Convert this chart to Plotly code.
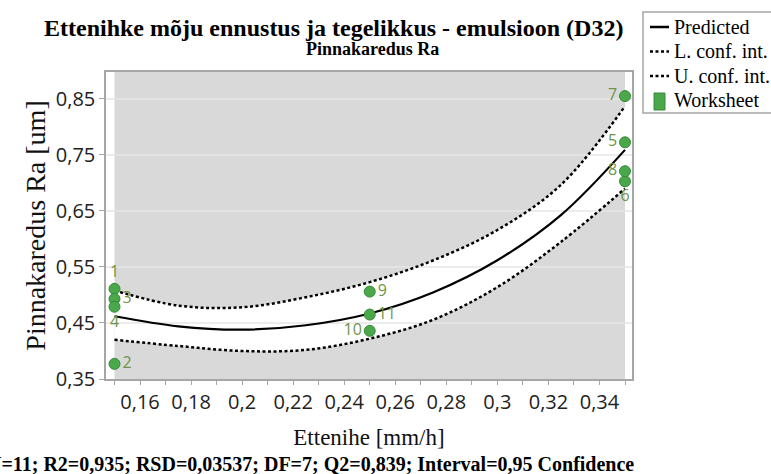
import plotly.graph_objects as go

# ---- fitted model curve (feed rate vs. surface roughness) ----
X_FIT = [0.15, 0.175, 0.2, 0.225, 0.25, 0.275, 0.3, 0.325, 0.35]
PREDICTED = [0.462, 0.444, 0.438, 0.446, 0.467, 0.505, 0.562, 0.643, 0.759]
LOWER_CONF = [0.420, 0.409, 0.400, 0.402, 0.422, 0.456, 0.514, 0.595, 0.690]
UPPER_CONF = [0.508, 0.481, 0.478, 0.496, 0.523, 0.562, 0.616, 0.697, 0.837]

# ---- worksheet observations ----
OBS_ID = ["1", "2", "3", "4", "5", "6", "7", "8", "9", "10", "11"]
OBS_X = [0.15, 0.15, 0.15, 0.15, 0.35, 0.35, 0.35, 0.35, 0.25, 0.25, 0.25]
OBS_Y = [0.511, 0.377, 0.493, 0.479, 0.7725, 0.703, 0.855, 0.721, 0.506, 0.436, 0.465]

# ---- axis ticks ----
X_TICKS = [0.15, 0.16, 0.17, 0.18, 0.19, 0.20, 0.21, 0.22, 0.23, 0.24, 0.25,
           0.26, 0.27, 0.28, 0.29, 0.30, 0.31, 0.32, 0.33, 0.34, 0.35]
X_TICK_TEXT = ["", "0,16", "", "0,18", "", "0,2", "", "0,22", "", "0,24", "",
               "0,26", "", "0,28", "", "0,3", "", "0,32", "", "0,34", ""]
Y_TICKS = [0.35, 0.45, 0.55, 0.65, 0.75, 0.85]
Y_TICK_TEXT = ["0,35", "0,45", "0,55", "0,65", "0,75", "0,85"]

X_RANGE = [0.14667, 0.35274]
Y_RANGE = [0.35, 0.898]
FACTOR_RANGE = [0.15, 0.35]

# label placement for each observation number
LABEL_POS = ["top center", "middle right", "middle right", "bottom center",
             "middle left", "bottom center", "middle left", "middle left",
             "middle right", "middle left", "middle right"]

# ---- page geometry ----
W, H = 771, 474
ML, MR, MT, MB = 106, 139, 72, 95
PW, PH = W - ML - MR, H - MT - MB


def px_x(px):
    return (px - ML) / PW


def px_y(py):
    return (H - MB - py) / PH


SERIF = "Liberation Serif"
SANS = "Open Sans"
GREEN = "#4aa84a"
GREEN_EDGE = "#378a37"
LABEL_GREEN = "#6e9447"
FRAME = "#a6a6a6"
BAND_GRAY = "#d9d9d9"
GRID = "#e6e6e6"
DOT = "3px,2.5px"

fig = go.Figure()

# white confidence band between the lower and upper limits
fig.add_trace(go.Scatter(x=X_FIT, y=LOWER_CONF, mode="lines",
                         line=dict(width=0, shape="spline"),
                         hoverinfo="skip", showlegend=False))
fig.add_trace(go.Scatter(x=X_FIT, y=UPPER_CONF, mode="lines",
                         line=dict(width=0, shape="spline"),
                         fill="tonexty", fillcolor="white",
                         hoverinfo="skip", showlegend=False))

# horizontal grid lines, drawn over the band
grid_x, grid_y = [], []
for v in Y_TICKS[1:]:
    grid_x += [X_RANGE[0], X_RANGE[1], None]
    grid_y += [v, v, None]
fig.add_trace(go.Scatter(x=grid_x, y=grid_y, mode="lines",
                         line=dict(color=GRID, width=1.5),
                         hoverinfo="skip", showlegend=False))

# confidence limits and prediction
fig.add_trace(go.Scatter(x=X_FIT, y=LOWER_CONF, mode="lines", name="L. conf. int.",
                         line=dict(color="black", width=2.5, dash=DOT, shape="spline"),
                         showlegend=False))
fig.add_trace(go.Scatter(x=X_FIT, y=UPPER_CONF, mode="lines", name="U. conf. int.",
                         line=dict(color="black", width=2.5, dash=DOT, shape="spline"),
                         showlegend=False))
fig.add_trace(go.Scatter(x=X_FIT, y=PREDICTED, mode="lines", name="Predicted",
                         line=dict(color="black", width=2.2, shape="spline"),
                         showlegend=False))

# observed runs
fig.add_trace(go.Scatter(x=OBS_X, y=OBS_Y, mode="markers+text", name="Worksheet",
                         text=OBS_ID, textposition=LABEL_POS,
                         textfont=dict(family=SANS, size=16, color=LABEL_GREEN),
                         marker=dict(size=11, color=GREEN,
                                     line=dict(color=GREEN_EDGE, width=1)),
                         cliponaxis=False, showlegend=False))

shapes = [
    # gray region over the explored factor range
    dict(type="rect", xref="x", yref="paper", x0=FACTOR_RANGE[0], x1=FACTOR_RANGE[1],
         y0=0, y1=1, fillcolor=BAND_GRAY, line=dict(width=0), layer="below"),
    # legend frame
    dict(type="rect", xref="paper", yref="paper", x0=px_x(643), x1=px_x(800),
         y0=px_y(113), y1=px_y(12), fillcolor="white",
         line=dict(color=FRAME, width=1.5)),
    # legend keys
    dict(type="line", xref="paper", yref="paper", x0=px_x(650), x1=px_x(669),
         y0=px_y(27), y1=px_y(27), line=dict(color="black", width=2.5)),
    dict(type="line", xref="paper", yref="paper", x0=px_x(650), x1=px_x(669),
         y0=px_y(51.5), y1=px_y(51.5), line=dict(color="black", width=2.5, dash=DOT)),
    dict(type="line", xref="paper", yref="paper", x0=px_x(650), x1=px_x(669),
         y0=px_y(76), y1=px_y(76), line=dict(color="black", width=2.5, dash=DOT)),
    dict(type="rect", xref="paper", yref="paper", x0=px_x(654), x1=px_x(665),
         y0=px_y(110), y1=px_y(93), fillcolor=GREEN,
         line=dict(color=GREEN_EDGE, width=1)),
]

annotations = [
    dict(text="<b>Ettenihke mõju ennustus ja tegelikkus - emulsioon (D32)</b>",
         x=px_x(333), y=px_y(28), xref="paper", yref="paper",
         xanchor="center", yanchor="middle", showarrow=False,
         font=dict(family=SERIF, size=24, color="black")),
    dict(text="<b>Pinnakaredus Ra</b>",
         x=px_x(372), y=px_y(49), xref="paper", yref="paper",
         xanchor="center", yanchor="middle", showarrow=False,
         font=dict(family=SERIF, size=18, color="black")),
    dict(text="<b>N=11; R2=0,935; RSD=0,03537; DF=7; Q2=0,839; Interval=0,95 Confidence</b>",
         x=px_x(636), y=px_y(464), xref="paper", yref="paper",
         xanchor="right", yanchor="middle", showarrow=False,
         font=dict(family=SERIF, size=20, color="black")),
]
for label, cy in [("Predicted", 27), ("L. conf. int.", 51.5),
                  ("U. conf. int.", 76), ("Worksheet", 100)]:
    annotations.append(dict(text=label, x=px_x(672), y=px_y(cy),
                            xref="paper", yref="paper", xanchor="left",
                            yanchor="middle", showarrow=False,
                            font=dict(family=SERIF, size=20, color="black")))

fig.update_layout(
    width=W, height=H,
    margin=dict(l=ML, r=MR, t=MT, b=MB, autoexpand=False),
    paper_bgcolor="white", plot_bgcolor="white",
    showlegend=False,
    shapes=shapes, annotations=annotations,
    xaxis=dict(range=X_RANGE, tickvals=X_TICKS, ticktext=X_TICK_TEXT,
               ticks="outside", ticklen=4, tickcolor=FRAME, tickwidth=1,
               showgrid=False, zeroline=False,
               showline=True, mirror=True, linecolor=FRAME, linewidth=1.5,
               tickfont=dict(family=SANS, size=20, color="#222"),
               title=dict(text="Ettenihe [mm/h]", standoff=15,
                          font=dict(family=SERIF, size=23, color="#111"))),
    yaxis=dict(range=Y_RANGE, tickvals=Y_TICKS, ticktext=Y_TICK_TEXT,
               ticks="outside", ticklen=5, tickcolor=FRAME, tickwidth=1,
               showgrid=False, zeroline=False,
               showline=True, mirror=True, linecolor=FRAME, linewidth=1.5,
               tickfont=dict(family=SANS, size=20, color="#222"),
               title=dict(text="Pinnakaredus Ra [um]", standoff=2,
                          font=dict(family=SERIF, size=28, color="#111"))),
)

fig.write_html("out.html")
